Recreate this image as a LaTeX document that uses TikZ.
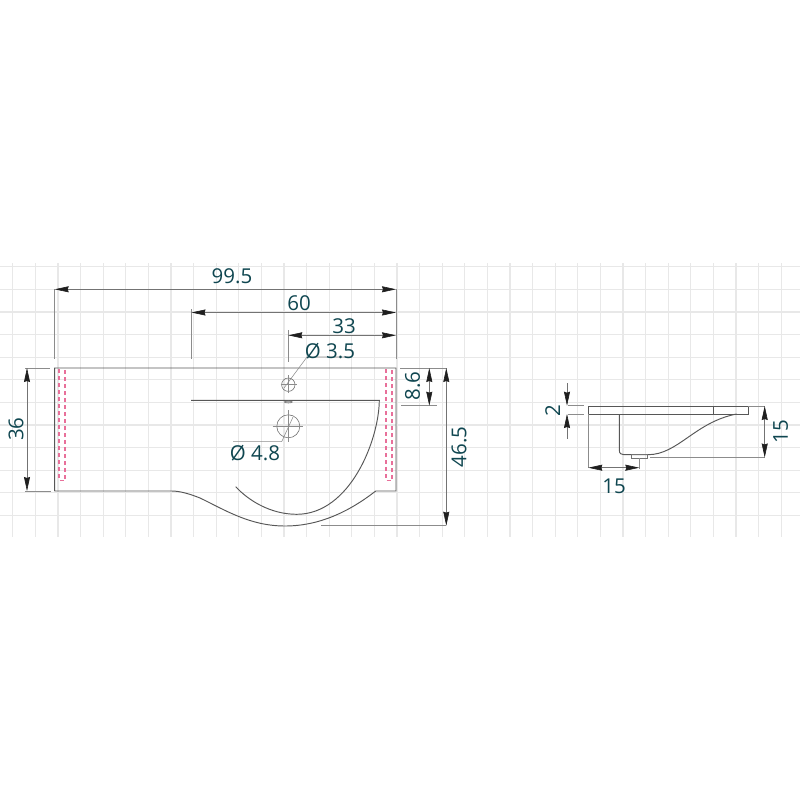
\documentclass[tikz,border=0pt]{standalone}
\usepackage{xcolor}
\usepackage{fontspec}
\setmainfont{Open Sans}
\usetikzlibrary{arrows.meta, calc}
\definecolor{gridgray}{HTML}{E8E8E8}
\definecolor{dimteal}{HTML}{0F4650}
\definecolor{sealred}{HTML}{E8709A}
\begin{document}
\begin{tikzpicture}[
                x=1pt, y=-1pt,
                gridline/.style={draw=gridgray, line width=1.2pt},
                outline/.style={draw=black!66, line width=0.95pt},
                thinline/.style={draw=black!55, line width=0.6pt},
                extline/.style={draw=black!45, line width=0.55pt},
                seal/.style={draw=sealred, line width=1.5pt, dash pattern=on 4pt off 3pt},
                dimline/.style={draw=black!55, line width=0.6pt, {Stealth[length=14pt, width=6pt, inset=1pt, color=black!88]}-{Stealth[length=14pt, width=6pt, inset=1pt, color=black!88]}},
                tipline/.style={draw=black!55, line width=0.6pt, -{Stealth[length=14pt, width=6pt, inset=1pt, color=black!88]}},
                dimtext/.style={text=dimteal, inner sep=0pt, font=\fontsize{20.5}{24}\selectfont}
            ]
                \useasboundingbox (0,0) rectangle (800,800);

                % Grid
                \foreach \gx in {0,...,34}
                    \draw[gridline] (12.7+22.6*\gx,263) -- (12.7+22.6*\gx,537);
                \foreach \gy in {0,...,11}
                    \draw[gridline] (0,266.7+22.6*\gy) -- (800,266.7+22.6*\gy);

                % Fixing strips
                \draw[seal] (59.2,369) -- (59.2,480.7) -- (64.9,480.7) -- (64.9,369);
                \draw[seal] (386.2,369) -- (386.2,480.7) -- (392.2,480.7) -- (392.2,369);

                % Basin corners
                \coordinate (TL) at (54.7,368);
                \coordinate (TR) at (396,368);
                \coordinate (BL) at (54.7,491);
                \coordinate (BR) at (396,491);
                \coordinate (BT) at (285,526);
                \coordinate (HS) at (288.3,384.7);
                \coordinate (HL) at (288.3,426.3);

                % Basin, top view
                \draw[outline] (BL) -- (TL) -- (TR) -- (BR) -- (375.7,491)
                    .. controls (350,511) and (320,526) .. (BT)
                    .. controls (250,526) and (225,510) .. (200,498)
                    .. controls (190,494) and (180,491) .. (171.7,491) -- (BL);
                \draw[outline] (191,400.3) -- (379.3,400.3)
                    .. controls (379,440) and (350,514.3) .. (296.7,514.3)
                    .. controls (270,514.3) and (248,500) .. (235.7,486.7);

                % Holes
                \draw[thinline] (HS) circle (6.7);
                \draw[extline] (280.5,384.7) -- (297,384.7) (288.3,375) -- (288.3,393);
                \draw[thinline] (HL) circle (11.5);
                \draw[extline] (272.7,426.3) -- (303,426.3) (288.3,410) -- (288.3,442);
                \draw[thinline, fill=black!25] (288.3,402) ellipse (4 and 1);

                % Leaders
                \draw[extline] (284,388) -- (307,357) -- (352,357);
                \draw[extline] (293,417) -- (281.7,441.7) -- (233,441.7);

                % Extension lines, top view
                \draw[extline] (54.7,289.3) -- (54.7,359);
                \draw[extline] (396,289.3) -- (396,359);
                \draw[extline] (191.5,309) -- (191.5,359);
                \draw[extline] (288.3,330) -- (288.3,362);
                \draw[extline] (25,368) -- (50,368);
                \draw[extline] (25,491) -- (51,491);
                \draw[extline] (400,368) -- (447,368);
                \draw[extline] (401,405.7) -- (437,405.7);
                \draw[extline] (321,525.7) -- (446.3,525.7);

                % Dimensions, top view
                \draw[dimline] (54.7,289.3) -- (396,289.3);
                \draw[dimline] (191.5,312.5) -- (396,312.5);
                \draw[dimline] (288.3,335.3) -- (396,335.3);
                \draw[dimline] (27,368) -- (27,491);
                \draw[dimline] (429.3,368) -- (429.3,405.7);
                \draw[dimline] (446.3,368) -- (446.3,525.7);

                \node[dimtext] (L995) at (232,276) {99.5};
                \node[dimtext] (L60) at (299,303) {60};
                \node[dimtext] (L33) at (344,326) {33};
                \node[dimtext] (LS) at (330,351) {Ø 3.5};
                \node[dimtext] (LL) at (255,453) {Ø 4.8};
                \node[dimtext, rotate=90] (L36) at (16,429) {36};
                \node[dimtext, rotate=90] (L86) at (412.7,386) {8.6};
                \node[dimtext, rotate=90] (L465) at (459,447) {46.5};

                % Basin, side view
                \draw[outline] (588.3,406) rectangle (748,414);
                \draw[outline] (713.7,406) -- (713.7,414);
                \draw[outline] (619.3,414) -- (619.3,450)
                    .. controls (619.3,453.5) and (621,454.7) .. (624,454.7) -- (648,454.7)
                    .. controls (678,454.7) and (695,422) .. (736.7,414);
                \draw[thinline] (631.7,454.3) rectangle (647.3,458.3);

                % Dimensions, side view
                \draw[extline] (568,405.7) -- (584,405.7);
                \draw[extline] (568,414) -- (584,414);
                \draw[extline] (748,406) -- (765,406);
                \draw[extline] (650,457.5) -- (765,457.5);
                \draw[extline] (588.3,414) -- (588.3,468);
                \draw[extline] (639.3,458) -- (639.3,469);
                \draw[tipline] (567,383) -- (567,405.7);
                \draw[tipline] (567,438.7) -- (567,414);
                \draw[dimline] (764.7,406) -- (764.7,457.5);
                \draw[dimline] (588.3,467.7) -- (639.3,467.7);

                \node[dimtext, rotate=90] (L2) at (552.7,411) {2};
                \node[dimtext, rotate=90] (LH) at (780.7,431.7) {15};
                \node[dimtext] (LW) at (614,486) {15};
            \end{tikzpicture}
\end{document}
